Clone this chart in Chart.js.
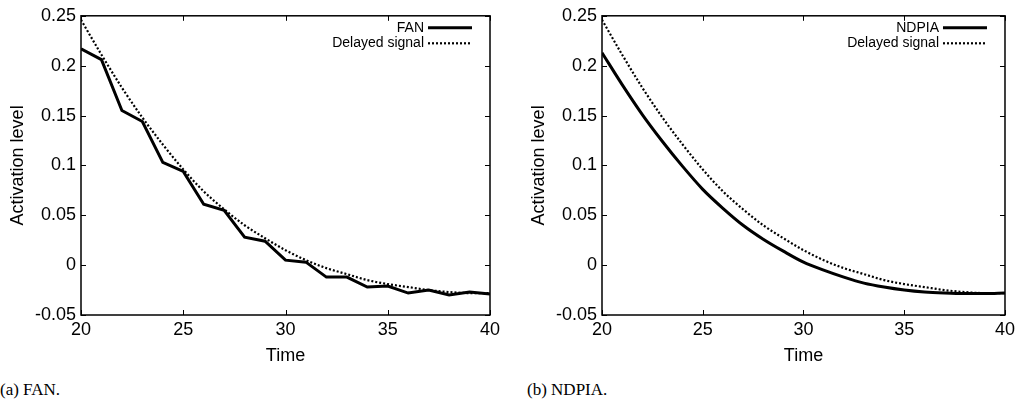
<!DOCTYPE html>
<html>
<head>
<meta charset="utf-8">
<script src="https://cdn.jsdelivr.net/npm/chart.js@4/dist/chart.umd.min.js"></script>
<style>
  html, body { margin: 0; padding: 0; background: #fff; }
  body { width: 1019px; height: 400px; position: relative; overflow: hidden; }
  .wrap { position: absolute; top: 0; height: 375px; }
  .cap { position: absolute; top: 380px; font-family: "Liberation Serif", serif; font-size: 17px; color: #000; }
</style>
</head>
<body>
<div class="wrap" style="left:0;width:510px"><canvas id="c1" width="510" height="375"></canvas></div>
<div class="wrap" style="left:510px;width:509px"><canvas id="c2" width="509" height="375"></canvas></div>
<div class="cap" style="left:0">(a) FAN.</div>
<div class="cap" style="left:527px">(b) NDPIA.</div>
<script>
const times = [20,21,22,23,24,25,26,27,28,29,30,31,32,33,34,35,36,37,38,39,40];
const fanValues = [0.217,0.206,0.155,0.144,0.103,0.094,0.061,0.055,0.028,0.024,0.005,0.003,-0.012,-0.012,-0.022,-0.021,-0.028,-0.025,-0.030,-0.027,-0.029];
const delayedValues = [0.246,0.211,0.178,0.148,0.121,0.096,0.074,0.056,0.040,0.027,0.015,0.005,-0.003,-0.009,-0.015,-0.019,-0.022,-0.025,-0.027,-0.028,-0.028];
const ndpiaValues = [0.213,0.181,0.151,0.124,0.099,0.076,0.057,0.040,0.026,0.014,0.003,-0.005,-0.012,-0.018,-0.022,-0.025,-0.027,-0.028,-0.0285,-0.0285,-0.028];
const xTicks = [20,25,30,35,40];
const yTicks = [-0.05,0,0.05,0.1,0.15,0.2,0.25];
const yTickLabels = ['-0.05','0','0.05','0.1','0.15','0.2','0.25'];

const FONT = '"Liberation Sans", Arial, sans-serif';

const framePlugin = {
  id: 'frame',
  afterDatasetsDraw(chart) {
    const ctx = chart.ctx, a = chart.chartArea;
    const xs = chart.scales.x, ys = chart.scales.y;
    ctx.save();
    ctx.strokeStyle = '#000';
    ctx.lineWidth = 1.5;
    ctx.strokeRect(a.left, a.top, a.right - a.left, a.bottom - a.top);
    ctx.lineWidth = 1;
    const L = 5;
    ctx.beginPath();
    xTicks.forEach(v => {
      const px = Math.round(xs.getPixelForValue(v)) + 0.5;
      ctx.moveTo(px, a.bottom); ctx.lineTo(px, a.bottom - L);
      ctx.moveTo(px, a.top); ctx.lineTo(px, a.top + L);
    });
    yTicks.forEach(v => {
      const py = Math.round(ys.getPixelForValue(v)) + 0.5;
      ctx.moveTo(a.left, py); ctx.lineTo(a.left + L, py);
      ctx.moveTo(a.right, py); ctx.lineTo(a.right - L, py);
    });
    ctx.stroke();
    // legend
    ctx.font = '14px ' + FONT;
    ctx.fillStyle = '#000';
    ctx.textAlign = 'right';
    ctx.textBaseline = 'middle';
    chart.data.datasets.forEach((ds, i) => {
      const y = a.top + 12 + i * 15.5;
      ctx.fillText(ds.label, a.right - 66, y);
      ctx.beginPath();
      ctx.lineWidth = ds.borderWidth;
      ctx.setLineDash(ds.borderDash || []);
      ctx.strokeStyle = ds.borderColor;
      ctx.moveTo(a.right - 62, y);
      ctx.lineTo(a.right - 18, y);
      ctx.stroke();
    });
    ctx.restore();
  }
};

function makeChart(id, mainLabel, mainValues, smoothMain, padLeft, padRight) {
  const mk = vals => times.map((t, i) => ({x: t, y: vals[i]}));
  return new Chart(document.getElementById(id), {
    type: 'line',
    data: {
      datasets: [
        {label: mainLabel, data: mk(mainValues), borderColor: '#000', borderWidth: 3,
         pointRadius: 0, tension: 0, cubicInterpolationMode: smoothMain ? 'monotone' : 'default', fill: false},
        {label: 'Delayed signal', data: mk(delayedValues), borderColor: '#000', borderWidth: 2.2,
         borderDash: [2, 2], pointRadius: 0, cubicInterpolationMode: 'monotone', fill: false}
      ]
    },
    options: {
      responsive: false,
      animation: false,
      events: [],
      layout: {padding: {top: 15, right: padRight, left: padLeft, bottom: 0}},
      plugins: {legend: {display: false}, tooltip: {enabled: false}},
      scales: {
        x: {
          type: 'linear', min: 20, max: 40,
          afterBuildTicks: s => { s.ticks = xTicks.map(v => ({value: v})); },
          afterFit: s => { s.height = 60; },
          grid: {display: false, drawTicks: false},
          border: {display: false},
          ticks: {color: '#000', font: {family: FONT, size: 18}, padding: 4, maxRotation: 0,
                  callback: v => String(v)},
          title: {display: true, text: 'Time', color: '#000', font: {family: FONT, size: 18},
                  padding: {top: 0, bottom: 8}}
        },
        y: {
          type: 'linear', min: -0.05, max: 0.25,
          afterBuildTicks: s => { s.ticks = yTicks.map(v => ({value: v})); },
          afterFit: s => { s.width = 81; },
          grid: {display: false, drawTicks: false},
          border: {display: false},
          ticks: {color: '#000', font: {family: FONT, size: 18}, padding: 5,
                  callback: (v, i) => yTickLabels[i]},
          title: {display: true, text: 'Activation level', color: '#000', font: {family: FONT, size: 18},
                  padding: {top: 7, bottom: 0}}
        }
      }
    },
    plugins: [framePlugin]
  });
}

makeChart('c1', 'FAN', fanValues, false, 0, 20);
makeChart('c2', 'NDPIA', ndpiaValues, true, 11, 9);
</script>
</body>
</html>
